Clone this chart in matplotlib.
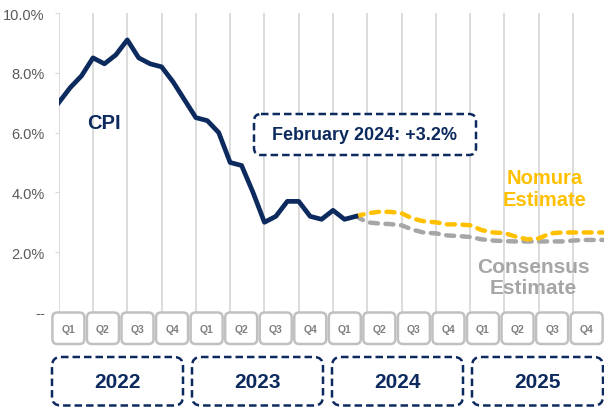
import matplotlib
matplotlib.use("Agg")
import matplotlib.pyplot as plt
from matplotlib.patches import FancyBboxPatch
import numpy as np

# monthly CPI y/y (%), Dec 2021 .. Feb 2024
cpi = [7.0, 7.5, 7.9, 8.5, 8.3, 8.6, 9.1, 8.5, 8.3, 8.2, 7.7, 7.1, 6.5,
       6.4, 6.0, 5.0, 4.9, 4.0, 3.0, 3.2, 3.7, 3.7, 3.2, 3.1, 3.4, 3.1, 3.2]
# forecasts, Feb 2024 .. Dec 2025
nomura = [3.2, 3.3, 3.35, 3.35, 3.3, 3.12, 3.03, 3.0, 2.93, 2.93, 2.9, 2.74,
          2.66, 2.64, 2.52, 2.43, 2.46, 2.63, 2.66, 2.66, 2.66, 2.66, 2.66]
consensus = [3.2, 3.0, 2.96, 2.94, 2.9, 2.75, 2.65, 2.63, 2.56, 2.54, 2.51, 2.43,
             2.39, 2.37, 2.36, 2.36, 2.36, 2.36, 2.36, 2.39, 2.41, 2.41, 2.41]

quarters = ["Q1", "Q2", "Q3", "Q4"] * 4
years = ["2022", "2023", "2024", "2025"]
yticks = [0, 2, 4, 6, 8, 10]
ytick_labels = ["--", "2.0%", "4.0%", "6.0%", "8.0%", "10.0%"]

navy = "#0c2a5e"
yellow = "#ffc000"
grey = "#a6a6a6"

W, H = 604, 410
fig = plt.figure(figsize=(W / 100, H / 100), dpi=100)

# main chart area (pixel positions converted to figure fractions)
left, right, top, bottom = 58.7, 604, 14, 313
ax = fig.add_axes([left / W, 1 - bottom / H, (right - left) / W, (bottom - top) / H])

x_cpi = np.arange(len(cpi))
x_fc = np.arange(len(cpi) - 1, len(cpi) - 1 + len(nomura))

ax.plot(x_fc, consensus, color=grey, lw=3.2, dashes=(1.8, 1.7),
        dash_capstyle="round", zorder=3)
ax.plot(x_fc, nomura, color=yellow, lw=3.2, dashes=(1.8, 1.7),
        dash_capstyle="round", zorder=4)
ax.plot(x_cpi, cpi, color=navy, lw=3.4, zorder=5)

ax.set_xlim(0, (right - left) / 11.43)
ax.set_ylim(0, 10)
ax.set_xticks(np.arange(0, 46, 3))
ax.set_xticklabels([])
ax.tick_params(axis="x", length=0)
ax.grid(axis="x", color="#d9d9d9", lw=1.3)
ax.set_axisbelow(True)
ax.set_yticks(yticks)
ax.set_yticklabels(ytick_labels, family="Liberation Sans", fontsize=10.5,
                   color="#595959")
ax.tick_params(axis="y", length=3, color="#d9d9d9", pad=7)
for s in ax.spines.values():
    s.set_visible(False)
ax.patch.set_alpha(0)

ax.text(4.0, 6.33, "CPI", color=navy, fontsize=14.5, fontweight="bold",
        family="Liberation Sans", ha="center", va="center")
ax.text(42.5, 4.13, "Nomura\nEstimate", color=yellow, fontsize=14.5, fontweight="bold",
        family="Liberation Sans", ha="center", va="center", linespacing=1.2)
ax.text(41.5, 1.18, "Consensus\nEstimate", color=grey, fontsize=15, fontweight="bold",
        family="Liberation Sans", ha="center", va="center", linespacing=1.15)

# overlay in pixel units for the boxes
ov = fig.add_axes([0, 0, 1, 1])
ov.set_xlim(0, W)
ov.set_ylim(H, 0)
ov.axis("off")
ov.patch.set_alpha(0)

# callout
ov.add_patch(FancyBboxPatch((254, 115), 222, 41, boxstyle="round,pad=0,rounding_size=7",
                            fc="white", ec=navy, lw=1.8, ls=(0, (3, 1.6))))
ov.text(365, 136, "February 2024: +3.2%", color=navy, fontsize=13, fontweight="bold",
        family="Liberation Sans", ha="center", va="center")

# quarter boxes
for i, q in enumerate(quarters):
    cx = 68.4 + 34.55 * i
    ov.add_patch(FancyBboxPatch((cx - 16, 313.5), 32, 31.5,
                                boxstyle="round,pad=0,rounding_size=5",
                                fc="white", ec="#c0c0c0", lw=1.8))
    ov.text(cx, 330, q, color="#808080", fontsize=7.5, fontweight="bold",
            family="Liberation Sans", ha="center", va="center")

# year boxes
for i, yr in enumerate(years):
    cx = 117.5 + 140 * i
    ov.add_patch(FancyBboxPatch((cx - 65.5, 358), 131, 48.5,
                                boxstyle="round,pad=0,rounding_size=9",
                                fc="white", ec=navy, lw=1.8, ls=(0, (3, 1.6))))
    ov.text(cx, 383, yr, color=navy, fontsize=15, fontweight="bold",
            family="Liberation Sans", ha="center", va="center")

fig.savefig("out.png", dpi=100)
